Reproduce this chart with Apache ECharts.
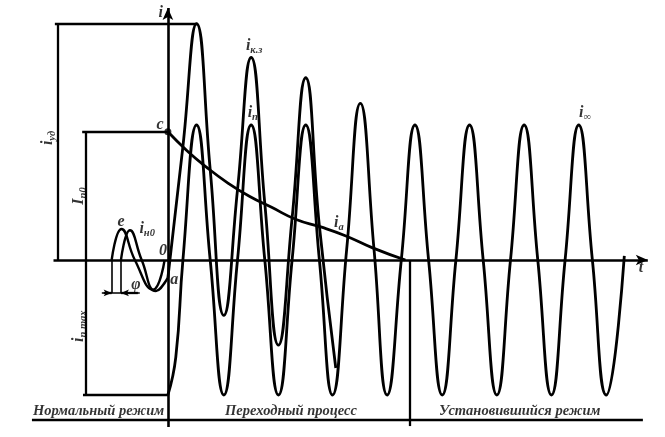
<!DOCTYPE html>
<html>
<head>
<meta charset="utf-8">
<script src="https://cdn.jsdelivr.net/npm/echarts@6/dist/echarts.min.js"></script>
<style>html,body{margin:0;padding:0;background:#fff}#c{width:665px;height:437px}</style>
</head>
<body>
<div id="c"></div>
<script>
// time in ms (50 Hz, period 20 ms), current in per-unit of the periodic amplitude
// periodic component i_п continuing as steady state i_∞
const tPer = [0.0, 2.9, 5.5, 10.5, 15.5, 20.5, 25.5, 30.5, 35.5, 40.5, 45.5, 50.5, 55.5, 60.3, 65.5, 70.5, 75.5, 80.3, 85.5, 90.5, 95.5, 100.5, 105.5, 110.5, 115.5, 120.5, 125.5, 130.5, 135.5, 140.5, 145.5, 150.5, 155.5, 160.6, 167.2];
const iPer = [-1, -0.72, 0, 1, 0, -1, 0, 1, 0, -1, 0, 1, 0, -1, 0.08, 1.16, 0.08, -1, 0, 1, 0, -1, 0, 1, 0, -1, 0, 1, 0, -1, 0, 1, 0, -1, 0.03];
// total short-circuit current i_к.з (until it merges with the periodic curve)
const tKz = [0, 5.5, 10.5, 15.5, 20.5, 25.5, 30.5, 35.5, 40.5, 45.5, 50.5, 55.5, 61.5];
const iKz = [-0.13, 0.84, 1.75, 0.67, -0.41, 0.52, 1.50, 0.42, -0.63, 0.31, 1.35, 0.25, -0.80];
// aperiodic component i_а
const tAp = [0, 7, 14, 22, 30, 38, 47, 56, 65, 75, 87];
const iAp = [0.95, 0.81, 0.69, 0.57, 0.47, 0.39, 0.30, 0.245, 0.18, 0.09, 0.0];
// pre-fault voltage e and load current i_н0
const tE = [-20.6, -17.0, -12.1, -5.5, -1.2];
const iE = [0, 0.23, 0, -0.22, 0];
const tN = [-17.2, -13.9, -9.6, -4.4, 0];
const iN = [0, 0.22, 0, -0.23, -0.13];
// characteristic values
const iUd = 1.75;      // surge current
const iP0 = 0.95;      // initial aperiodic value (point c)
const iPmax = -1.0;    // periodic amplitude
const tUd = 10.6;      // time of surge peak
const tSteady = 88.6;  // end of transient
// region captions
const regions = ['Нормальный режим', 'Переходный процесс', 'Установившийся режим'];
const regionT = [-25.4, 45.1, 128.9];

const zip = (a, b) => a.map((v, k) => [v, b[k]]);
const F = 'Liberation Serif';
const rich = {
  m: {fontFamily: F, fontStyle: 'italic', fontWeight: 'bold', fontSize: 16, color: '#000', lineHeight: 20},
  s: {fontFamily: F, fontStyle: 'italic', fontWeight: 'bold', fontSize: 10.5, color: '#000', lineHeight: 20, verticalAlign: 'bottom'},
  r: {fontFamily: F, fontStyle: 'italic', fontWeight: 'bold', fontSize: 14.5, color: '#000'}
};
const lbl = (t, i, text, rot) => ({value: [t, i], label: {show: true, position: 'inside', formatter: text, rich: rich, rotate: rot || 0}});

const axisYTop = 1.867, axisYBot = -1.237, axisXL = -41.9, axisXR = 175.8;
const baseY = -1.185, phiY = -0.244;
const seg = (a, b, arrowEnd, w) => [
  {coord: a, symbol: 'none'},
  {coord: b, symbol: arrowEnd ? 'arrow' : 'none', symbolSize: arrowEnd ? [8, 12] : 0, lineStyle: {width: w || 2.3}}
];
const lines = [
  seg([axisXL, 0], [axisXR, 0], true, 2.6),
  seg([0, axisYBot], [0, axisYTop], true, 2.6),
  seg([-41.4, iUd], [tUd, iUd]),
  seg([-40.5, iUd], [-40.5, 0]),
  seg([-31.4, iP0], [0, iP0]),
  seg([-30.0, iP0], [-30.0, iPmax]),
  seg([-31.1, iPmax], [0, iPmax]),
  seg([-49.8, baseY], [174.0, baseY]),
  seg([tSteady, 0], [tSteady, -1.23]),
  seg([tE[0], 0], [tE[0], phiY], false, 1.6),
  seg([tN[0], 0], [tN[0], phiY], false, 1.6),
  seg([-24.2, phiY], [-10.3, phiY], false, 1.6),
  [{coord: [-23.5, phiY], symbol: 'none'}, {coord: [tE[0], phiY], symbol: 'arrow', symbolSize: [5, 8]}],
  [{coord: [-11.0, phiY], symbol: 'none'}, {coord: [tN[0], phiY], symbol: 'arrow', symbolSize: [5, 8]}]
];

const curve = (data, w) => ({
  type: 'line', data: data, smooth: 0.5, showSymbol: false, clip: false, silent: true,
  lineStyle: {color: '#000', width: w}
});

const chart = echarts.init(document.getElementById('c'));
chart.setOption({
  animation: false,
  backgroundColor: '#fff',
  grid: {left: 0, right: 0, top: 0, bottom: 0},
  xAxis: {type: 'value', min: -61.5, max: 182.1, show: false},
  yAxis: {type: 'value', min: -1.311, max: 1.926, show: false},
  series: [
    {
      type: 'line', data: [], silent: true,
      markLine: {silent: true, symbol: ['none', 'none'], label: {show: false},
        lineStyle: {color: '#000', width: 2.3, type: 'solid'}, emphasis: {disabled: true}, data: lines}
    },
    curve(zip(tPer, iPer), 2.8),
    curve(zip(tKz, iKz), 2.8),
    curve(zip(tAp, iAp), 2.8),
    curve(zip(tE, iE), 2.4),
    curve(zip(tN, iN), 2.4),
    {
      type: 'scatter', symbolSize: 7, itemStyle: {color: '#000'}, silent: true,
      data: [[0, iP0]]
    },
    {
      type: 'scatter', symbolSize: 0, silent: true,
      data: [
        lbl(-44.0, 0.904, '{m|i}{s|уд}', 90),
        lbl(-32.6, 0.474, '{m|I}{s|п0}', 90),
        lbl(-32.6, -0.49, '{m|i}{s|п max}', 90),
        lbl(31.6, 1.585, '{m|i}{s|к.з}'),
        lbl(31.1, 1.09, '{m|i}{s|п}'),
        lbl(62.6, 0.275, '{m|i}{s|а}'),
        lbl(152.8, 1.09, '{m|i}{s|∞}'),
        lbl(-2.9, 1.0, '{m|c}'),
        lbl(-17.2, 0.285, '{m|e}'),
        lbl(-7.6, 0.23, '{m|i}{s|н0}'),
        lbl(-1.8, 0.067, '{m|0}'),
        lbl(2.3, -0.148, '{m|a}'),
        lbl(-11.7, -0.185, '{m|φ}'),
        lbl(173.3, -0.06, '{m|t}'),
        lbl(-2.6, 1.83, '{m|i}'),
        lbl(regionT[0], -1.12, '{r|' + regions[0] + '}'),
        lbl(regionT[1], -1.12, '{r|' + regions[1] + '}'),
        lbl(regionT[2], -1.12, '{r|' + regions[2] + '}')
      ]
    }
  ]
});
</script>
</body>
</html>
